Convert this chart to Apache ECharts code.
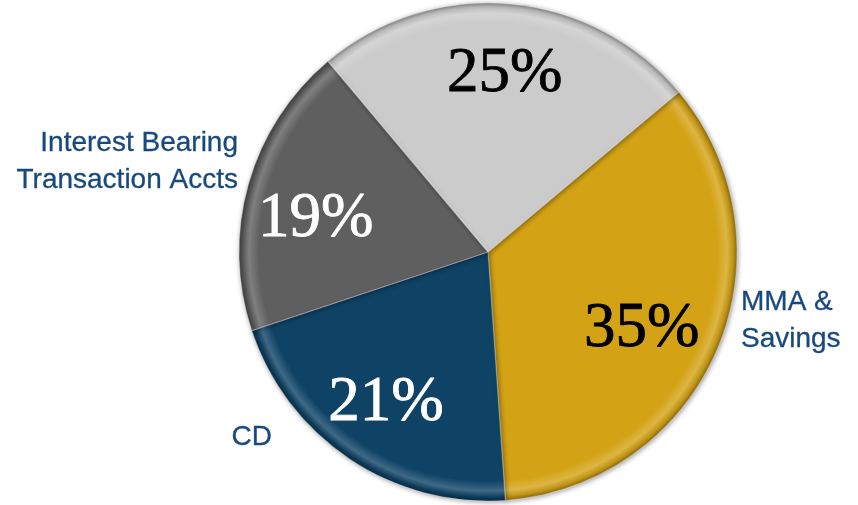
<!DOCTYPE html>
<html>
<head>
<meta charset="utf-8">
<style>
  html, body { margin: 0; padding: 0; background: #ffffff; }
  #chart { width: 858px; height: 505px; }
</style>
<script src="https://cdn.jsdelivr.net/npm/echarts@6/dist/echarts.min.js"></script>
</head>
<body>
<div id="chart"></div>
<script>
// Deposit mix by account type (percent of total deposits)
const categories = ['MMA &\nSavings', 'CD', 'Interest Bearing\nTransaction Accts', ''];
const shares = [35, 21, 19, 25];

// Slice fills and the colour of the percentage printed on each slice
const sliceColors = ['#D3A215', '#0F4366', '#5F5F5F', '#CBCBCB'];
const pctColors = ['#000000', '#ffffff', '#ffffff', '#000000'];

const CX = 488, CY = 252, R = 249;

function shade(hex, f) {
  const n = parseInt(hex.slice(1), 16);
  let r = (n >> 16) & 255, g = (n >> 8) & 255, b = n & 255;
  const m = c => Math.max(0, Math.min(255, Math.round(f >= 0 ? c + (255 - c) * f : c * (1 + f))));
  return 'rgb(' + m(r) + ',' + m(g) + ',' + m(b) + ')';
}

// Bevelled rim: flat face, bright ridge, darker outer lip
function rimFill(hex) {
  return {
    type: 'radial', x: CX, y: CY, r: R, global: true,
    colorStops: [
      { offset: 0, color: hex },
      { offset: 0.92, color: hex },
      { offset: 0.96, color: shade(hex, 0.2) },
      { offset: 0.985, color: shade(hex, -0.1) },
      { offset: 1, color: shade(hex, -0.35) }
    ]
  };
}

// Placement of the category captions around the pie
const captionPlacement = [
  { x: 741, y: 321, align: 'left' },
  { x: 272, y: 437, align: 'right' },
  { x: 238, y: 162, align: 'right' },
  null
];

// Small nudges for the percentage labels off their slice's mid-angle
const pctNudge = [[-12, 7], [-2, 2], [1, 16], [1, 2]];

const chart = echarts.init(document.getElementById('chart'), null, { renderer: 'canvas' });

const sliceData = shares.map((v, i) => ({
  value: v,
  name: categories[i],
  itemStyle: { color: rimFill(sliceColors[i]) },
  label: { show: categories[i] !== '' }
}));

const pctData = shares.map((v, i) => ({
  value: v,
  name: categories[i],
  label: { color: pctColors[i], textBorderColor: pctColors[i] }
}));

chart.setOption({
  animation: false,
  backgroundColor: '#ffffff',
  series: [
    {
      type: 'pie',
      center: [CX, CY],
      radius: [0, R],
      startAngle: 40,
      clockwise: true,
      silent: true,
      data: sliceData,
      itemStyle: {
        borderColor: 'rgba(255,255,255,0.3)',
        borderWidth: 1.2,
        shadowBlur: 5,
        shadowColor: 'rgba(0,0,0,0.4)',
        shadowOffsetX: 1,
        shadowOffsetY: 1
      },
      label: {
        show: true,
        position: 'outside',
        formatter: '{b}',
        overflow: 'none',
        fontFamily: '"Liberation Sans Narrow", "Arial Narrow", "Liberation Sans", sans-serif',
        fontSize: 28,
        lineHeight: 37,
        color: '#17497F',
        textBorderColor: '#17497F',
        textBorderWidth: 0.3
      },
      labelLine: { show: false },
      labelLayout: function (p) {
        const pos = captionPlacement[p.dataIndex];
        if (!pos) return {};
        return { x: pos.x, y: pos.y, align: pos.align, verticalAlign: 'middle', moveOverlap: false, width: 400 };
      },
      emphasis: { disabled: true }
    },
    {
      // transparent ring that carries the percentage labels at ~70% of the radius
      type: 'pie',
      center: [CX, CY],
      radius: [105, R],
      startAngle: 40,
      clockwise: true,
      silent: true,
      z: 5,
      data: pctData,
      itemStyle: { color: 'rgba(0,0,0,0)' },
      label: {
        show: true,
        position: 'inside',
        formatter: '{c}%',
        fontFamily: '"Liberation Serif", "DejaVu Serif", serif',
        fontSize: 63,
        textBorderWidth: 0.8
      },
      labelLine: { show: false },
      labelLayout: function (p) {
        const n = pctNudge[p.dataIndex];
        return { dx: n[0], dy: n[1] };
      },
      emphasis: { disabled: true }
    }
  ]
});
</script>
</body>
</html>
